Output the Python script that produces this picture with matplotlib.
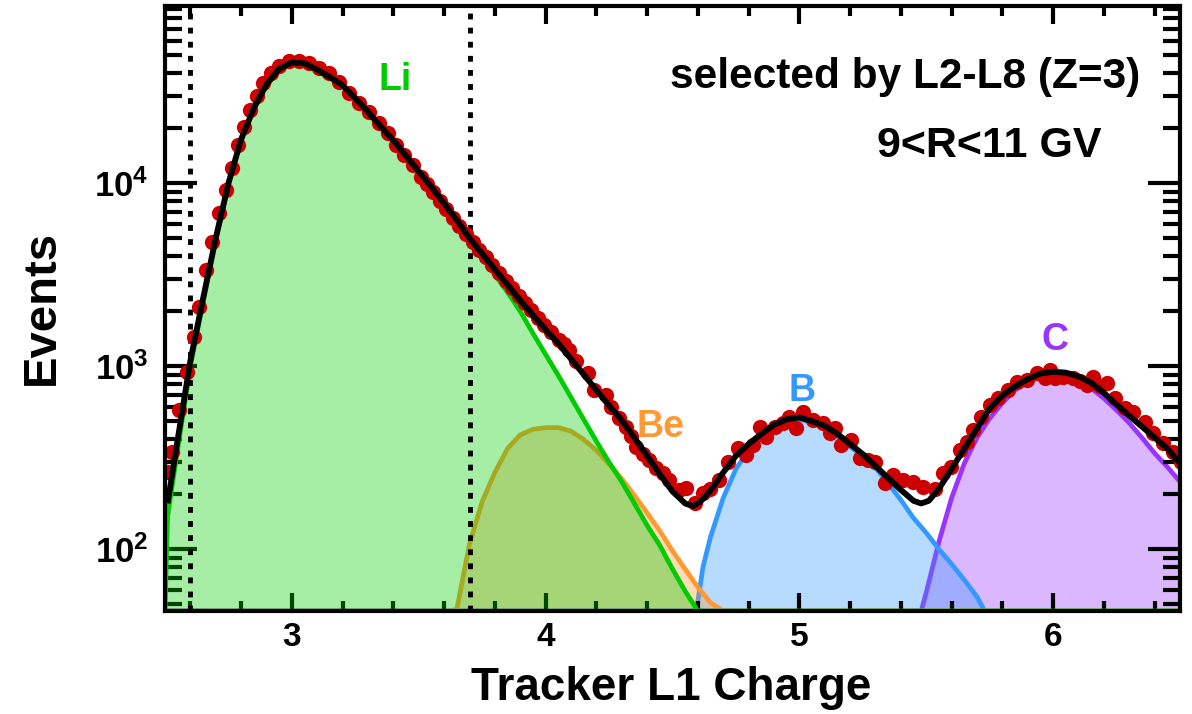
import numpy as np
import matplotlib
matplotlib.use("Agg")
import matplotlib.pyplot as plt
from matplotlib.ticker import FixedLocator, MultipleLocator, LogLocator, NullFormatter, FuncFormatter

# ---------------- data ----------------
# measured events (red points)
data_x = [2.509, 2.529, 2.555, 2.588, 2.614, 2.634, 2.661, 2.687, 2.713, 2.739,
          2.765, 2.788, 2.812, 2.835, 2.862, 2.888, 2.917, 2.950, 2.989, 3.029,
          3.068, 3.107, 3.147, 3.186, 3.226, 3.265, 3.305, 3.344, 3.377, 3.410,
          3.443, 3.476, 3.508, 3.531, 3.557, 3.583, 3.609, 3.635, 3.660, 3.686,
          3.712, 3.738, 3.764, 3.790, 3.816, 3.842, 3.868, 3.894, 3.920, 3.943,
          3.969, 3.995, 4.022, 4.054, 4.074, 4.094, 4.120, 4.166, 4.192, 4.238,
          4.258, 4.291, 4.317, 4.337, 4.357, 4.383, 4.409, 4.436, 4.462, 4.488,
          4.527, 4.554, 4.590, 4.619, 4.646, 4.685, 4.718, 4.757, 4.791, 4.817,
          4.843, 4.870, 4.902, 4.935, 4.961, 4.988, 5.014, 5.054, 5.093, 5.119,
          5.139, 5.165, 5.205, 5.238, 5.270, 5.297, 5.336, 5.369, 5.408, 5.448,
          5.487, 5.533, 5.567, 5.599, 5.632, 5.659, 5.685, 5.717, 5.750, 5.783,
          5.823, 5.856, 5.896, 5.935, 5.968, 5.987, 6.007, 6.040, 6.079, 6.105,
          6.132, 6.158, 6.185, 6.211, 6.244, 6.283, 6.316, 6.362, 6.395, 6.434,
          6.474, 6.505]
data_y = [265, 341, 577, 933, 1452, 2118, 3357, 4797, 6855, 9183,
          12078, 16181, 20230, 25177, 29992, 35156, 39902, 43752, 46774, 46774,
          45290, 42462, 39902, 35892, 31046, 27353, 24604, 21281, 18750, 16181,
          14289, 12589, 10864, 9886, 8913, 8035, 7211, 6427, 5821, 5272,
          4786, 4325, 3936, 3565, 3236, 2938, 2692, 2427, 2213, 2032,
          1828, 1679, 1531, 1393, 1318, 1227, 1072, 916, 741, 697,
          601, 520, 468, 417, 364, 331, 308, 279, 260, 239,
          211, 215, 178, 202, 214, 239, 301, 356, 327, 372,
          468, 412, 468, 489, 531, 458, 565, 509, 489, 431,
          458, 372, 395, 314, 308, 301, 230, 255, 239, 234,
          220, 214, 260, 282, 349, 387, 449, 531, 615, 668,
          741, 824, 841, 916, 859, 955, 859, 877, 859, 832,
          791, 877, 776, 807, 668, 589, 565, 498, 431, 379,
          341, 300]

# total fit (black curve)
total_x = [2.512, 2.55, 2.60, 2.65, 2.70, 2.75, 2.80, 2.85, 2.90, 2.95,
           3.00, 3.05, 3.10, 3.15, 3.20, 3.25, 3.30, 3.35, 3.40, 3.45,
           3.50, 3.55, 3.60, 3.65, 3.70, 3.75, 3.80, 3.85, 3.90, 3.95,
           4.00, 4.05, 4.10, 4.15, 4.20, 4.25, 4.30, 4.35, 4.40, 4.45,
           4.50, 4.55, 4.58, 4.61, 4.65, 4.70, 4.75, 4.80, 4.85, 4.90,
           4.95, 5.00, 5.05, 5.10, 5.15, 5.20, 5.25, 5.30, 5.35, 5.40,
           5.45, 5.48, 5.51, 5.55, 5.60, 5.65, 5.70, 5.75, 5.80, 5.85,
           5.90, 5.95, 6.00, 6.05, 6.10, 6.15, 6.20, 6.25, 6.30, 6.35,
           6.40, 6.45, 6.50]
total_y = [185, 398, 1072, 2344, 5012, 10000, 17378, 25704, 34674, 42170,
           45709, 45186, 41687, 38019, 34277, 29174, 24547, 20417, 17179, 14125,
           11614, 9550, 7762, 6310, 5012, 4121, 3388, 2786, 2291, 1905,
           1585, 1334, 1096, 902, 741, 610, 507, 407, 324, 257,
           207, 178, 172, 182, 209, 263, 324, 376, 427, 479,
           513, 525, 501, 473, 427, 376, 331, 285, 245, 211,
           184, 178, 184, 214, 275, 355, 457, 589, 692, 776,
           851, 912, 933, 923, 881, 813, 716, 617, 537, 468,
           407, 355, 295]

# Li template
li_x = [2.50, 2.51, 2.55, 2.60, 2.65, 2.70, 2.75, 2.80, 2.85, 2.90,
        2.95, 3.00, 3.05, 3.10, 3.15, 3.20, 3.25, 3.30, 3.35, 3.40,
        3.45, 3.50, 3.55, 3.60, 3.65, 3.70, 3.75, 3.80, 3.85, 3.90,
        3.95, 4.00, 4.05, 4.10, 4.15, 4.20, 4.25, 4.30, 4.35, 4.40,
        4.45, 4.50, 4.55, 4.60, 4.65, 6.50]
li_y = [40, 150, 355, 1000, 2239, 4898, 9886, 17179, 25410, 34277,
        41687, 45186, 44668, 41210, 37584, 33884, 28840, 24266, 20184, 16982,
        13964, 11482, 9441, 7674, 6166, 4898, 3936, 3162, 2541, 1995,
        1514, 1161, 891, 676, 513, 389, 299, 234, 178, 135,
        105, 78, 59, 44, 32, 0]

# Be template
be_x = [2.50, 3.62, 3.65, 3.70, 3.75, 3.80, 3.85, 3.90, 3.95, 4.00,
        4.05, 4.10, 4.15, 4.20, 4.25, 4.30, 4.35, 4.40, 4.45, 4.50,
        4.55, 4.60, 4.65, 4.70, 6.50]
be_y = [0, 0, 47, 107, 182, 263, 355, 422, 452, 462,
        462, 442, 398, 347, 292, 243, 197, 158, 126, 98,
        78, 62, 51, 42, 0]

# B template
b_x = [2.50, 4.585, 4.60, 4.62, 4.65, 4.70, 4.75, 4.80, 4.85, 4.90,
       4.95, 5.00, 5.05, 5.10, 5.15, 5.20, 5.25, 5.30, 5.35, 5.40,
       5.45, 5.50, 5.55, 5.60, 5.65, 5.70, 5.73, 5.75, 6.50]
b_y = [0, 40, 52, 80, 117, 191, 275, 347, 417, 468,
       501, 513, 495, 462, 417, 363, 324, 279, 229, 186,
       148, 123, 100, 83, 68, 55, 46, 40, 0]

# C template
c_x = [2.50, 5.48, 5.50, 5.55, 5.60, 5.65, 5.70, 5.75, 5.80, 5.85,
       5.90, 5.95, 6.00, 6.05, 6.10, 6.15, 6.20, 6.25, 6.30, 6.35,
       6.40, 6.45, 6.50]
c_y = [0, 40, 58, 110, 191, 295, 407, 519, 631, 741,
       822, 881, 902, 881, 832, 759, 668, 575, 490, 407,
       335, 282, 234]

cut_lines = [2.6, 3.7]
x_ticks = [3, 4, 5, 6]

# ---------------- style ----------------
plt.rcParams['font.family'] = ['Liberation Sans', 'DejaVu Sans']
plt.rcParams['font.weight'] = 'bold'
plt.rcParams['mathtext.fontset'] = 'custom'
plt.rcParams['mathtext.rm'] = 'Liberation Sans:bold'
plt.rcParams['mathtext.bf'] = 'Liberation Sans:bold'
plt.rcParams['mathtext.it'] = 'Liberation Sans:bold'

W, H = 1192, 714
fig = plt.figure(figsize=(W / 100, H / 100), dpi=100)
L, R, T, B = 165, 1180, 6, 611
ax = fig.add_axes([L / W, 1 - B / H, (R - L) / W, (B - T) / H])
ax.set_yscale('log')
YMIN, YMAX = 46, 93000
ax.set_xlim(2.5, 6.5)
ax.set_ylim(YMIN, YMAX)

def template(x, y, col, z):
    yv = np.maximum(np.asarray(y, float), YMIN)
    ax.fill_between(x, YMIN, yv, color=col, alpha=0.35, lw=0, zorder=z)
    ax.plot(x, yv, color=col, lw=3.4, zorder=z + 0.1, solid_joinstyle='round')

template(c_x, c_y, '#9933ff', 1.0)
template(b_x, b_y, '#3399ff', 1.2)
template(be_x, be_y, '#ff9933', 1.4)
template(li_x, li_y, '#00cc00', 1.6)

for xc in cut_lines:
    ax.axvline(xc, color='black', lw=3.5, linestyle=(0, (1.2, 1.7)), zorder=2)

ax.plot(data_x, data_y, 'o', color='#cc0000', ms=11, mec='none', zorder=3)
ax.plot(total_x, total_y, color='black', lw=4.2, zorder=4, solid_joinstyle='round')

# ticks
ax.xaxis.set_major_locator(FixedLocator(x_ticks))
ax.xaxis.set_minor_locator(MultipleLocator(0.2))
ax.yaxis.set_major_locator(LogLocator(base=10, subs=(1.0,)))
ax.yaxis.set_minor_locator(LogLocator(base=10, subs=np.arange(2, 10)))
ax.yaxis.set_minor_formatter(NullFormatter())
ax.yaxis.set_major_formatter(FuncFormatter(lambda v, p: r'$\mathbf{10^{%d}}$' % int(round(np.log10(v)))))
ax.xaxis.set_major_formatter(FuncFormatter(lambda v, p: '%d' % v))

ax.tick_params(axis='x', which='major', direction='in', length=13, width=3,
               top=True, bottom=True, labelsize=24, pad=8)
ax.tick_params(axis='x', which='minor', direction='in', length=7, width=3,
               top=True, bottom=True)
ax.tick_params(axis='y', which='major', direction='in', length=23, width=3,
               left=True, right=True, labelsize=25, pad=12)
ax.tick_params(axis='y', which='minor', direction='in', length=12, width=3,
               left=True, right=True)
for lab in ax.get_xticklabels():
    lab.set_fontweight('bold')
for s in ax.spines.values():
    s.set_linewidth(3)
    s.set_zorder(5)

# labels
fig.text(671 / W, 1 - 700 / H, 'Tracker L1 Charge', fontsize=33, fontweight='bold',
         ha='center', va='baseline')
fig.text(42 / W, 1 - 307 / H, 'Events', fontsize=34, fontweight='bold',
         ha='center', va='center', rotation=90)

ax.text(0.9606, 0.8645, 'selected by L2-L8 (Z=3)', transform=ax.transAxes,
        fontsize=30.5, fontweight='bold', ha='right', va='baseline')
ax.text(0.9229, 0.7504, '9<R<11 GV', transform=ax.transAxes,
        fontsize=31, fontweight='bold', ha='right', va='baseline')

ax.text(0.2266, 0.8612, 'Li', color='#00cc00', transform=ax.transAxes,
        fontsize=27, fontweight='bold', ha='center', va='baseline')
ax.text(0.4882, 0.2881, 'Be', color='#ff9933', transform=ax.transAxes,
        fontsize=27, fontweight='bold', ha='center', va='baseline')
ax.text(0.6273, 0.3471, 'B', color='#3399ff', transform=ax.transAxes,
        fontsize=27, fontweight='bold', ha='center', va='baseline')
ax.text(0.8768, 0.4314, 'C', color='#9933ff', transform=ax.transAxes,
        fontsize=27, fontweight='bold', ha='center', va='baseline')

fig.savefig('out.png', dpi=100)
